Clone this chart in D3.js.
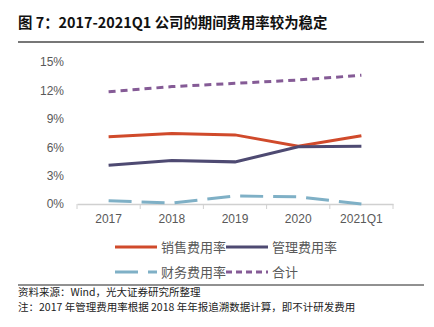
<!DOCTYPE html>
<html>
<head>
<meta charset="utf-8">
<script src="https://cdn.jsdelivr.net/npm/d3@7"></script>
<style>
  body { margin: 0; background: #fff; }
  text { font-family: "Noto Sans CJK SC", "Liberation Sans", sans-serif; }
  .tick text { font-family: "Liberation Sans", Arial, sans-serif; }
</style>
</head>
<body>
<div id="chart"></div>
<script>
const categories = ["2017", "2018", "2019", "2020", "2021Q1"];
const salesRate = [7.1, 7.45, 7.3, 6.1, 7.2];
const adminRate = [4.1, 4.6, 4.45, 6.05, 6.1];
const financeRate = [0.35, 0.1, 0.85, 0.75, 0.0];
const totalRate = [11.85, 12.4, 12.75, 13.1, 13.6];
const yTicks = [0, 3, 6, 9, 12, 15];

const series = [
    { name: "销售费用率", values: salesRate, color: "#d04a2b", dash: null, legendDash: null },
    { name: "管理费用率", values: adminRate, color: "#4e4a72", dash: null, legendDash: null },
    { name: "财务费用率", values: financeRate, color: "#7fb0c6", dash: "23,10", legendDash: "23,10" },
    { name: "合计", values: totalRate, color: "#855b96", dash: "7,5", legendDash: "6,4" }
];

const width = 434, height = 327;
let margin = { left: 77, right: 41 };

let svg = d3.select("#chart")
    .append("svg")
    .attr("width", width)
    .attr("height", height);

// title
svg.append("text")
    .attr("x", 18)
    .attr("y", 28)
    .attr("font-size", 14.4)
    .attr("font-weight", "bold")
    .attr("fill", "#111")
    .text("图 7：2017-2021Q1 公司的期间费用率较为稳定");

svg.append("line")
    .attr("x1", 18).attr("x2", 424)
    .attr("y1", 42).attr("y2", 42)
    .attr("stroke", "#777")
    .attr("stroke-width", 2);

let x = d3.scaleBand()
    .domain(categories)
    .range([margin.left, width - margin.right]);

let y = d3.scaleLinear()
    .domain([0, 15])
    .range([204, 62]);

// y labels (no axis line)
let yAxis = svg.append("g")
    .attr("transform", "translate(" + (margin.left - 10) + ",0)")
    .call(d3.axisLeft(y).tickValues(yTicks).tickSize(0).tickFormat(d => d + "%"));
yAxis.select(".domain").remove();
yAxis.selectAll("text")
    .attr("font-size", 12)
    .attr("fill", "#595959");

// x axis
let xAxis = svg.append("g")
    .attr("transform", "translate(0," + y(0) + ")")
    .call(d3.axisBottom(x).tickSize(0).tickPadding(10));
xAxis.select(".domain").attr("stroke", "#d0d0d0").attr("stroke-width", 1.5);
xAxis.selectAll("text")
    .attr("font-size", 12)
    .attr("fill", "#595959");

// category boundary ticks
const bounds = categories.map(c => x(c)).concat([x.range()[1]]);
svg.append("g")
    .selectAll("line")
    .data(bounds)
    .enter()
    .append("line")
    .attr("x1", d => d).attr("x2", d => d)
    .attr("y1", y(0)).attr("y2", y(0) + 5)
    .attr("stroke", "#d0d0d0")
    .attr("stroke-width", 1);

const line = d3.line()
    .x((d, i) => x(categories[i]) + x.bandwidth() / 2)
    .y(d => y(d));

svg.append("g")
    .selectAll("path")
    .data(series)
    .enter()
    .append("path")
    .attr("d", d => line(d.values))
    .attr("fill", "none")
    .attr("stroke", d => d.color)
    .attr("stroke-width", 3)
    .attr("stroke-dasharray", d => d.dash);

// legend
let legend = svg.append("g")
    .selectAll("g")
    .data(series)
    .enter()
    .append("g")
    .attr("transform", (d, i) => "translate(" + (115 + (i % 2) * 111) + "," + (247 + Math.floor(i / 2) * 25) + ")");

legend.append("line")
    .attr("x1", 0).attr("x2", 42)
    .attr("y1", 0).attr("y2", 0)
    .attr("stroke", d => d.color)
    .attr("stroke-width", 3)
    .attr("stroke-dasharray", d => d.legendDash);

legend.append("text")
    .attr("x", 46)
    .attr("y", 0)
    .attr("dy", "0.35em")
    .attr("font-size", 13)
    .attr("fill", "#595959")
    .text(d => d.name);

// footer
svg.append("line")
    .attr("x1", 18).attr("x2", 424)
    .attr("y1", 285).attr("y2", 285)
    .attr("stroke", "#222")
    .attr("stroke-width", 1);

svg.append("text")
    .attr("x", 18)
    .attr("y", 296)
    .attr("font-size", 10.5)
    .attr("fill", "#222")
    .text("资料来源：Wind，光大证券研究所整理");

svg.append("text")
    .attr("x", 18)
    .attr("y", 311)
    .attr("font-size", 10.5)
    .attr("fill", "#222")
    .text("注：2017 年管理费用率根据 2018 年年报追溯数据计算，即不计研发费用");
</script>
</body>
</html>
